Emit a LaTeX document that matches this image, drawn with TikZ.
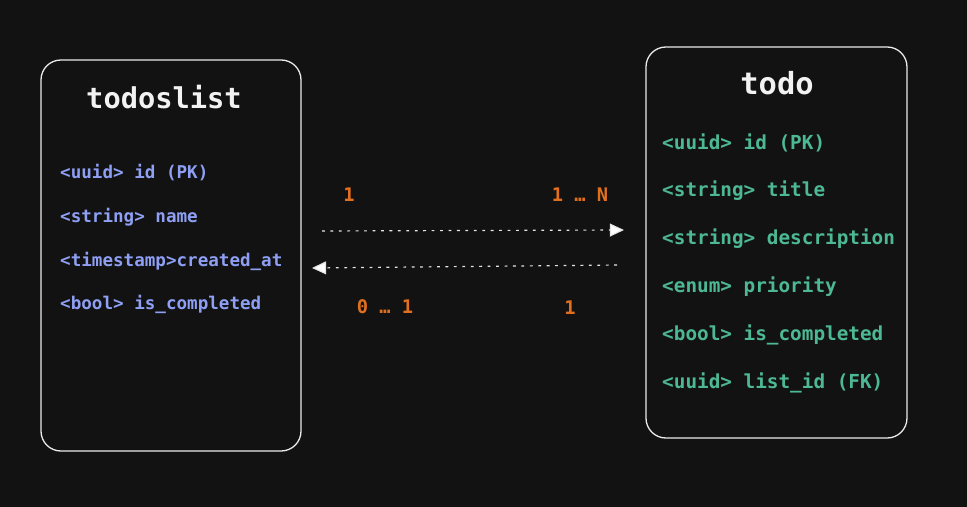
\documentclass[tikz,border=0pt]{standalone}
\usepackage{fontspec}
\setmonofont{DejaVu Sans Mono}
\usetikzlibrary{arrows.meta,positioning}
\definecolor{bgdark}{HTML}{121212}
\definecolor{fieldblue}{HTML}{8E9FF4}
\definecolor{fieldgreen}{HTML}{4DB894}
\definecolor{cardorange}{HTML}{E0701F}

\tikzset{
  entity/.style={draw=white!92!black, line width=1.1pt, rounded corners=17pt, fill=bgdark},
  title/.style={text=white!95!black, font=\ttfamily\bfseries\fontsize{24.5}{26}\selectfont, inner sep=0pt},
  fieldl/.style={anchor=west, inner sep=0pt, text=fieldblue, font=\ttfamily\bfseries\fontsize{15}{17}\selectfont},
  fieldr/.style={anchor=west, inner sep=0pt, text=fieldgreen, font=\ttfamily\bfseries\fontsize{16.5}{18}\selectfont},
  card/.style={inner sep=0pt, text=cardorange, font=\ttfamily\bfseries\fontsize{16}{18}\selectfont},
  rel/.style={draw=white!90!black, line width=1pt, dash pattern=on 2.4pt off 4.8pt,
    -{Triangle[length=12pt, width=11pt, fill=white]}}
}

\begin{document}
\begin{tikzpicture}[x=0.03cm, y=-0.03cm]
   \fill[bgdark] (0,0) rectangle (967,507);
   \useasboundingbox (0,0) rectangle (967,507);

   % tables
   \node[entity, minimum width=7.8cm, minimum height=11.73cm] (tlist) at (171,255.5) {};
   \node[entity, minimum width=7.83cm, minimum height=11.73cm] (todo) at (776.5,242.5) {};

   \node[title] (tlisttitle) at (164,97) {todoslist};
   \node[title, font=\ttfamily\bfseries\fontsize{26}{28}\selectfont] (todotitle) at (777,83) {todo};

   % todoslist fields
   \node[fieldl] (l1) at (60,173) {<uuid> id (PK)};
   \node[fieldl] (l2) at (60,217) {<string> name};
   \node[fieldl] (l3) at (60,261) {<timestamp>created\_at};
   \node[fieldl] (l4) at (60,304) {<bool> is\_completed};

   % todo fields
   \node[fieldr] (r1) at (662,143) {<uuid> id (PK)};
   \node[fieldr] (r2) at (662,191) {<string> title};
   \node[fieldr] (r3) at (662,239) {<string> description};
   \node[fieldr] (r4) at (662,287) {<enum> priority};
   \node[fieldr] (r5) at (662,335) {<bool> is\_completed};
   \node[fieldr] (r6) at (662,383) {<uuid> list\_id (FK)};

   % relation ends
   \coordinate (fwdstart) at (322,231);
   \coordinate (fwdend) at (624,230);
   \coordinate (backstart) at (617,265);
   \coordinate (backend) at (312,268);

   \draw[rel] (fwdstart) -- (fwdend);
   \draw[rel] (backstart) -- (backend);

   % cardinalities
   \node[card] (c1) at (349,195) {1};
   \node[card] (c2) at (580,195) {1 … N};
   \node[card] (c3) at (385,307) {0 … 1};
   \node[card] (c4) at (570,308) {1};
\end{tikzpicture}
\end{document}
